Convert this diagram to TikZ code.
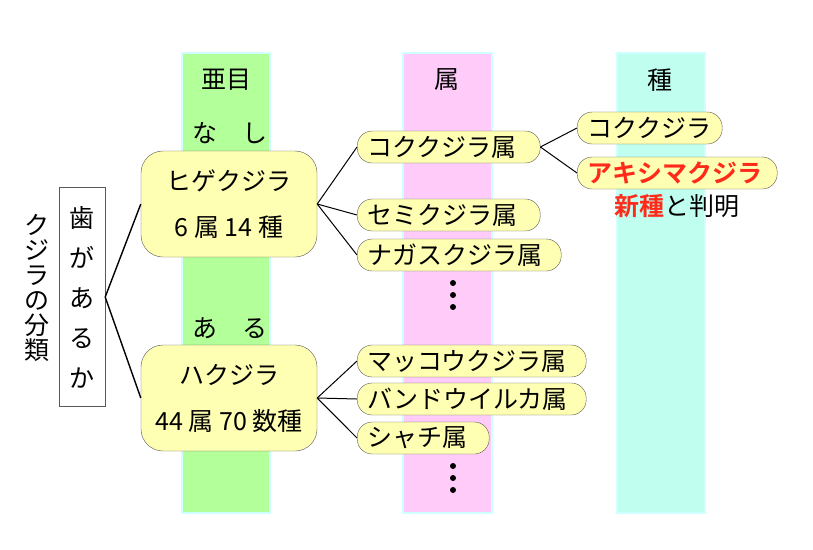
\documentclass[tikz,border=0pt]{standalone}
\usepackage{fontspec}
\setmainfont{Noto Sans CJK JP}[BoldFont={Noto Sans CJK JP Bold}]
\usetikzlibrary{positioning}
\definecolor{colgreen}{HTML}{B3FF99}
\definecolor{colpink}{HTML}{FFCCF9}
\definecolor{colcyan}{HTML}{C0FFF0}
\definecolor{coledge}{HTML}{D0FFFF}
\definecolor{boxfill}{HTML}{FFFFB3}
\definecolor{newred}{HTML}{FF2A1A}

\begin{document}
\begin{tikzpicture}[x=1pt, y=-1pt, font=\fontsize{25}{25}\selectfont,
    column/.style={draw=coledge, line width=2pt},
    pill/.style={draw=gray!70!black, fill=boxfill, rounded corners=15pt, minimum height=32pt,
        inner xsep=10pt, inner ysep=1pt, anchor=west, align=left, text width=#1},
    group/.style={draw=gray!70!black, fill=boxfill, rounded corners=22pt, minimum width=176pt,
        minimum height=106pt, align=center, font=\fontsize{25}{46}\selectfont},
    link/.style={line width=1.4pt},
    sublink/.style={line width=1pt}]
    \useasboundingbox (0,0) rectangle (813,549);
    % rank columns
    \draw[column, fill=colgreen] (182,53) rectangle (270,513);
    \draw[column, fill=colpink] (403,53) rectangle (492,513);
    \draw[column, fill=colcyan] (617,53) rectangle (705,513);
    \node (suborder) at (226,80) {亜目};
    \node (genus) at (447,80) {属};
    \node (species) at (660,80) {種};
    \node (nashi) at (230,133) {な　し};
    \node (aru) at (230,328) {あ　る};
    % left side
    \node[align=center] (title) at (37,288) {ク\\ジ\\ラ\\の\\分\\類};
    \node[draw=gray!70!black, minimum width=46pt, minimum height=219pt, align=center,
        font=\fontsize{25}{40}\selectfont] (teeth) at (82,297) {歯\\が\\あ\\る\\か};
    \node[group] (baleen) at (229,204) {ヒゲクジラ\\6 属 14 種};
    \node[group] (toothed) at (229,398) {ハクジラ\\44 属 70 数種};
    \draw[link] (teeth.east) -- (baleen.west);
    \draw[link] (teeth.east) -- (toothed.west);
    % genera
    \node[pill=163pt] (gray) at (357,147) {コククジラ属};
    \node[pill=163pt] (right) at (357,215) {セミクジラ属};
    \node[pill=184pt] (rorqual) at (357,255) {ナガスクジラ属};
    \node[pill=209pt] (sperm) at (357,361) {マッコウクジラ属};
    \node[pill=209pt] (dolphin) at (357,399) {バンドウイルカ属};
    \node[pill=112pt] (orca) at (357,438) {シャチ属};
    \foreach \n in {gray,right,rorqual}
        \draw[sublink] (baleen.east) -- (\n.west);
    \foreach \n in {sperm,dolphin,orca}
        \draw[sublink] (toothed.east) -- (\n.west);
    \foreach \y in {283,295,307,466,478,490}
        \fill (453,\y) circle (3pt);
    % species
    \node[pill=125pt] (grayw) at (577,128) {コククジラ};
    \node[pill=180pt, text=newred, font=\fontsize{25}{25}\selectfont\bfseries] (akishima) at (577,173) {アキシマクジラ};
    \node[below=2pt of akishima] (newsp) {\textcolor{newred}{\bfseries 新種}と判明};
    \draw[sublink] (gray.east) -- (grayw.west);
    \draw[sublink] (gray.east) -- (akishima.west);
\end{tikzpicture}
\end{document}
